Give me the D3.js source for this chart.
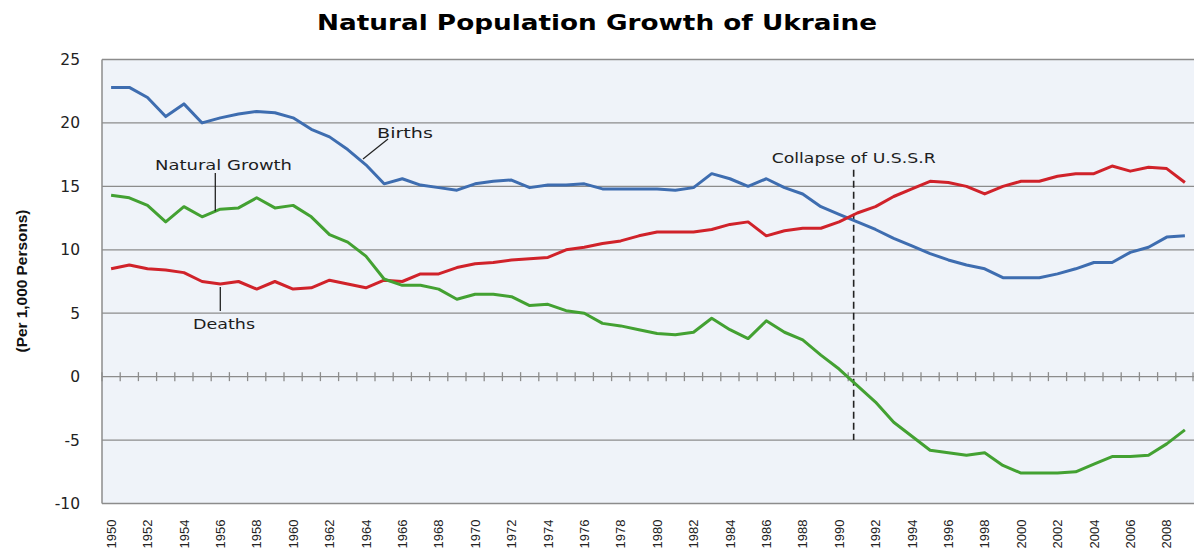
<!DOCTYPE html>
<html>
<head>
<meta charset="utf-8">
<script src="https://cdn.jsdelivr.net/npm/d3@7"></script>
<style>
  body { margin: 0; background: #fff; }
  svg { display: block; }
</style>
</head>
<body>
<div id="chart"></div>
<script>
/* categories and values */
var years = d3.range(1950, 2010);
var xTickLabels = ["1950","1952","1954","1956","1958","1960","1962","1964","1966","1968",
  "1970","1972","1974","1976","1978","1980","1982","1984","1986","1988",
  "1990","1992","1994","1996","1998","2000","2002","2004","2006","2008"];
var yTicks = [25, 20, 15, 10, 5, 0, -5, -10];

var births = [22.8, 22.8, 22.0, 20.5, 21.5, 20.0, 20.4, 20.7, 20.9, 20.8,
  20.4, 19.5, 18.9, 17.9, 16.7, 15.2, 15.6, 15.1, 14.9, 14.7,
  15.2, 15.4, 15.5, 14.9, 15.1, 15.1, 15.2, 14.8, 14.8, 14.8,
  14.8, 14.7, 14.9, 16.0, 15.6, 15.0, 15.6, 14.9, 14.4, 13.4,
  12.8, 12.2, 11.6, 10.9, 10.3, 9.7, 9.2, 8.8, 8.5, 7.8,
  7.8, 7.8, 8.1, 8.5, 9.0, 9.0, 9.8, 10.2, 11.0, 11.1];

var deaths = [8.5, 8.8, 8.5, 8.4, 8.2, 7.5, 7.3, 7.5, 6.9, 7.5,
  6.9, 7.0, 7.6, 7.3, 7.0, 7.6, 7.5, 8.1, 8.1, 8.6,
  8.9, 9.0, 9.2, 9.3, 9.4, 10.0, 10.2, 10.5, 10.7, 11.1,
  11.4, 11.4, 11.4, 11.6, 12.0, 12.2, 11.1, 11.5, 11.7, 11.7,
  12.2, 12.9, 13.4, 14.2, 14.8, 15.4, 15.3, 15.0, 14.4, 15.0,
  15.4, 15.4, 15.8, 16.0, 16.0, 16.6, 16.2, 16.5, 16.4, 15.3];

var growth = [14.3, 14.1, 13.5, 12.2, 13.4, 12.6, 13.2, 13.3, 14.1, 13.3,
  13.5, 12.6, 11.2, 10.6, 9.5, 7.7, 7.2, 7.2, 6.9, 6.1,
  6.5, 6.5, 6.3, 5.6, 5.7, 5.2, 5.0, 4.2, 4.0, 3.7,
  3.4, 3.3, 3.5, 4.6, 3.7, 3.0, 4.4, 3.5, 2.9, 1.7,
  0.6, -0.7, -2.0, -3.6, -4.7, -5.8, -6.0, -6.2, -6.0, -7.0,
  -7.6, -7.6, -7.6, -7.5, -6.9, -6.3, -6.3, -6.2, -5.3, -4.2];

var seriesNames = ["Births", "Deaths", "Natural Growth"];
var seriesColors = ["#3e6db0", "#d0222a", "#43a132"];

document.addEventListener("DOMContentLoaded", function(event) {
  var data = [births, deaths, growth].map(function(vals, k) {
    return {
      name: seriesNames[k],
      values: vals.map(function(v, i) { return {year: years[i], value: v}; })
    };
  });
  drawChart(data);
});

function drawChart(data) {
var width = 1200;
var height = 550;
var left = 102, right = 1194, top = 59.5, bottom = 503.5;
var gridColor = "#8c8c8c";
var textFont = "'DejaVu Sans', sans-serif";

/* Scale */
var xScale = d3.scaleBand()
  .domain(years)
  .range([left, right])
  .padding(0);

var yScale = d3.scaleLinear()
  .domain([-10, 25])
  .range([bottom, top]);

var xc = d => xScale(d) + xScale.bandwidth() / 2;

/* Add SVG */
var svg = d3.select("#chart").append("svg")
  .attr("width", width)
  .attr("height", height);

/* plot background */
svg.append("rect")
  .attr("x", left)
  .attr("y", top)
  .attr("width", right - left)
  .attr("height", bottom - top)
  .attr("fill", "#eff3f9");

/* gridlines */
svg.append("g")
  .selectAll("line")
  .data(yTicks).enter()
  .append("line")
  .attr("x1", left)
  .attr("x2", right)
  .attr("y1", d => yScale(d))
  .attr("y2", d => yScale(d))
  .attr("stroke", gridColor)
  .attr("stroke-width", 1.3);

/* left axis line */
svg.append("line")
  .attr("x1", left).attr("x2", left)
  .attr("y1", top).attr("y2", bottom)
  .attr("stroke", gridColor)
  .attr("stroke-width", 1.5);

/* tick marks crossing the zero line, at category boundaries */
var bounds = years.map(d => xScale(d)).concat([right - 1]);
svg.append("g")
  .selectAll("line")
  .data(bounds).enter()
  .append("line")
  .attr("x1", d => d)
  .attr("x2", d => d)
  .attr("y1", yScale(0) - 4.5)
  .attr("y2", yScale(0) + 4.5)
  .attr("stroke", gridColor)
  .attr("stroke-width", 1.3);

/* Y axis labels */
var yAxis = d3.axisLeft(yScale)
  .tickValues(yTicks)
  .tickFormat(d => String(d))
  .tickSize(0)
  .tickPadding(22);
var gy = svg.append("g")
  .attr("transform", `translate(${left}, 0)`)
  .call(yAxis);
gy.select(".domain").remove();
gy.selectAll("text")
  .style("font-family", textFont)
  .style("font-size", "15.5px")
  .attr("fill", "#222");

/* X axis labels, rotated */
var xAxis = d3.axisBottom(xScale)
  .tickValues(xTickLabels.map(Number))
  .tickSize(0);
var gx = svg.append("g")
  .attr("transform", `translate(0, ${bottom})`)
  .call(xAxis);
gx.select(".domain").remove();
gx.selectAll("text")
  .attr("transform", "rotate(-90)")
  .attr("x", -16)
  .attr("y", 0)
  .attr("dy", "0.36em")
  .style("text-anchor", "end")
  .style("font-family", "'Liberation Sans', sans-serif")
  .style("font-size", "13px")
  .attr("fill", "#222");

/* Y axis title */
svg.append("text")
  .attr("transform", "translate(22, 281) rotate(-90)")
  .attr("text-anchor", "middle")
  .attr("dy", "0.35em")
  .attr("textLength", 143)
  .attr("lengthAdjust", "spacingAndGlyphs")
  .style("font-family", "'Liberation Sans', sans-serif")
  .style("font-weight", "bold")
  .style("font-size", "15px")
  .attr("fill", "#111")
  .text("(Per 1,000 Persons)");

/* Title */
svg.append("text")
  .attr("x", 597)
  .attr("y", 30)
  .attr("text-anchor", "middle")
  .attr("textLength", 560)
  .attr("lengthAdjust", "spacingAndGlyphs")
  .style("font-family", textFont)
  .style("font-weight", "bold")
  .style("font-size", "21.5px")
  .attr("fill", "#000")
  .text("Natural Population Growth of Ukraine");

/* Collapse of U.S.S.R marker */
var collapseX = xScale(1991) + xScale.bandwidth() * 0.3;
svg.append("line")
  .attr("x1", collapseX).attr("x2", collapseX)
  .attr("y1", yScale(16.3)).attr("y2", yScale(-5))
  .attr("stroke", "#222")
  .attr("stroke-width", 1.6)
  .attr("stroke-dasharray", "7,4");

/* Add lines */
var line = d3.line()
  .x(d => xc(d.year))
  .y(d => yScale(d.value));

svg.append("g")
  .attr("class", "lines")
  .selectAll("path")
  .data(data).enter()
  .append("path")
  .attr("d", d => line(d.values))
  .attr("fill", "none")
  .attr("stroke", (d, i) => seriesColors[i])
  .attr("stroke-width", 3)
  .attr("stroke-linejoin", "round");

/* annotations */
var notes = [
  {text: "Collapse of U.S.S.R", x: collapseX, y: 163, len: 164},
  {text: "Births", x: 405, y: 137.5, len: 56},
  {text: "Natural Growth", x: 223.5, y: 170, len: 137},
  {text: "Deaths", x: 224, y: 329, len: 62}
];
svg.append("g")
  .selectAll("text")
  .data(notes).enter()
  .append("text")
  .attr("x", d => d.x)
  .attr("y", d => d.y)
  .attr("text-anchor", "middle")
  .attr("textLength", d => d.len)
  .attr("lengthAdjust", "spacingAndGlyphs")
  .style("font-family", textFont)
  .style("font-size", "14.5px")
  .attr("fill", "#1e1e1e")
  .text(d => d.text);

/* leader lines */
var leaders = [
  [388, 139, 363, 159],
  [xc(1956) - 5, 173, xc(1956) - 5, yScale(13.2) + 2],
  [xc(1956), yScale(7.3) + 3, xc(1956), 311]
];
svg.append("g")
  .selectAll("line")
  .data(leaders).enter()
  .append("line")
  .attr("x1", d => d[0]).attr("y1", d => d[1])
  .attr("x2", d => d[2]).attr("y2", d => d[3])
  .attr("stroke", "#222")
  .attr("stroke-width", 1.3);
}
</script>
</body>
</html>
